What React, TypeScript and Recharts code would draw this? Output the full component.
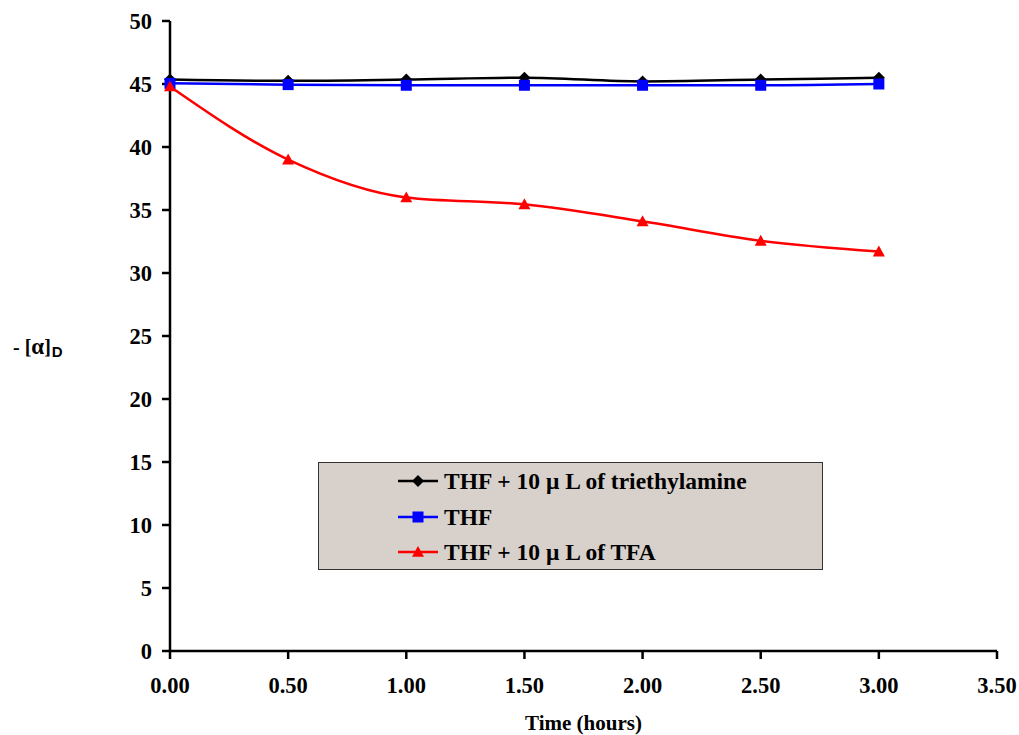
import React from 'react';
import { LineChart, Line, XAxis, YAxis, Legend } from 'recharts';

const times = [0, 0.5, 1, 1.5, 2, 2.5, 3];
const triethylamine = [45.35, 45.25, 45.35, 45.5, 45.2, 45.35, 45.5];
const thf = [45.05, 44.95, 44.9, 44.9, 44.9, 44.9, 45.0];
const tfa = [44.8, 39.0, 36.0, 35.45, 34.1, 32.55, 31.7];
const xTicks = [0, 0.5, 1, 1.5, 2, 2.5, 3, 3.5];
const yTicks = [0, 5, 10, 15, 20, 25, 30, 35, 40, 45, 50];
const seriesNames = ['THF + 10 \u03bc L of triethylamine', 'THF', 'THF + 10 \u03bc L of TFA'];
const seriesColors = ['#000000', '#0000ff', '#ff0000'];

const data = times.map((t, i) => ({ t, a: triethylamine[i], b: thf[i], c: tfa[i] }));

const serif = '"Liberation Serif", "Times New Roman", serif';
const sans = '"Liberation Sans", Arial, sans-serif';
const tickStyle = { fontFamily: serif, fontWeight: 'bold', fontSize: 22.5, fill: '#000' };

const Diamond = (props: any) => {
  const { cx, cy, fill } = props;
  if (cx == null || cy == null) return <g />;
  const r = 6;
  return <path d={`M${cx},${cy - r}L${cx + r},${cy}L${cx},${cy + r}L${cx - r},${cy}Z`} fill={fill} />;
};
const Square = (props: any) => {
  const { cx, cy, fill } = props;
  if (cx == null || cy == null) return <g />;
  const r = 5.5;
  return <rect x={cx - r} y={cy - r} width={2 * r} height={2 * r} fill={fill} />;
};
const Triangle = (props: any) => {
  const { cx, cy, fill } = props;
  if (cx == null || cy == null) return <g />;
  const r = 6;
  return <path d={`M${cx},${cy - r}L${cx + r},${cy + r * 0.8}L${cx - r},${cy + r * 0.8}Z`} fill={fill} />;
};

const markers = [Diamond, Square, Triangle];

const LegendBox = () => (
  <div
    style={{
      width: 505,
      height: 108,
      boxSizing: 'border-box',
      border: '1px solid #333',
      background: '#d8d1cb',
      position: 'relative',
    }}
  >
    {seriesNames.map((name, i) => {
      const M = markers[i];
      return (
        <div
          key={name}
          style={{
            position: 'absolute',
            left: 79,
            top: [18, 54, 89][i] - 14,
            height: 28,
            display: 'flex',
            alignItems: 'center',
            whiteSpace: 'nowrap',
          }}
        >
          <svg width={40} height={16} style={{ marginRight: 6 }}>
            <line x1={0} y1={8} x2={40} y2={8} stroke={seriesColors[i]} strokeWidth={2.5} />
            <M cx={20} cy={8} fill={seriesColors[i]} />
          </svg>
          <span style={{ fontFamily: serif, fontWeight: 'bold', fontSize: 23.5, color: '#000' }}>{name}</span>
        </div>
      );
    })}
  </div>
);

const YLabel = () => (
  <text x={13} y={354} fontWeight="bold" fill="#000" fontFamily={serif}>
    <tspan fontSize={20}>{'- ['}</tspan>
    <tspan fontSize={23}>{'\u03b1'}</tspan>
    <tspan fontSize={20}>{']'}</tspan>
    <tspan fontSize={15} dy={3} dx={1} fontFamily={sans}>D</tspan>
  </text>
);

export default function App() {
  return (
    <div style={{ position: 'absolute', left: 0, top: 0, width: 1019, height: 735, background: '#fff' }}>
      <LineChart width={1019} height={735} data={data} margin={{ top: 21, right: 22, left: 0, bottom: 0 }}>
        <XAxis
          dataKey="t"
          type="number"
          domain={[0, 3.5]}
          ticks={xTicks}
          tickFormatter={(v: number) => v.toFixed(2)}
          height={84}
          tickSize={8}
          tickMargin={18}
          axisLine={{ stroke: '#000', strokeWidth: 2.5 }}
          tickLine={{ stroke: '#000', strokeWidth: 2.5 }}
          tick={tickStyle}
          label={{
            value: 'Time (hours)',
            position: 'insideBottom',
            offset: 5,
            style: { fontFamily: serif, fontWeight: 'bold', fontSize: 21, fill: '#000' },
          }}
        />
        <YAxis
          type="number"
          domain={[0, 50]}
          ticks={yTicks}
          width={170}
          tickSize={8}
          tickMargin={10}
          axisLine={{ stroke: '#000', strokeWidth: 2.5 }}
          tickLine={{ stroke: '#000', strokeWidth: 2.5 }}
          tick={tickStyle}
          label={<YLabel />}
        />
        <Legend
          layout="horizontal"
          verticalAlign="middle"
          align="center"
          content={<LegendBox />}
          wrapperStyle={{ left: 318, top: 462, width: 505, height: 108 }}
        />
        <Line
          type="monotone"
          dataKey="a"
          name={seriesNames[0]}
          stroke={seriesColors[0]}
          strokeWidth={2.5}
          dot={<Diamond fill={seriesColors[0]} />}
          isAnimationActive={false}
        />
        <Line
          type="monotone"
          dataKey="b"
          name={seriesNames[1]}
          stroke={seriesColors[1]}
          strokeWidth={2.5}
          dot={<Square fill={seriesColors[1]} />}
          isAnimationActive={false}
        />
        <Line
          type="monotone"
          dataKey="c"
          name={seriesNames[2]}
          stroke={seriesColors[2]}
          strokeWidth={2.5}
          dot={<Triangle fill={seriesColors[2]} />}
          isAnimationActive={false}
        />
      </LineChart>
    </div>
  );
}
